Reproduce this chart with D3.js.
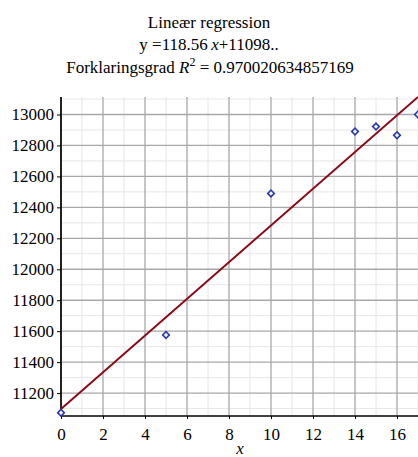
<!DOCTYPE html>
<html>
<head>
<meta charset="utf-8">
<script src="https://cdn.jsdelivr.net/npm/d3@7"></script>
<style>
  html, body { margin: 0; padding: 0; background: #fff; }
  svg { display: block; }
</style>
</head>
<body>
<svg id="chart" width="418" height="457"></svg>
<script>
// Observations
const xValues = [0, 5, 10, 14, 15, 16, 17];
const yValues = [11073, 11575, 12490, 12890, 12922, 12866, 13000];

// Fitted model as reported in the heading
const slope = 118.56;
const intercept = 11098;
const rSquared = "0.970020634857169";

// Axis ticks
const xTicks = [0, 2, 4, 6, 8, 10, 12, 14, 16];
const yTicks = [11200, 11400, 11600, 11800, 12000, 12200, 12400, 12600, 12800, 13000];

const FONT = "Liberation Serif, Tinos, Times New Roman, Times, Nimbus Roman, Noto Serif, FreeSerif, DejaVu Serif, serif";
const svg = d3.select("#chart");
const plotLeft = 61, plotRight = 418, plotTop = 97, plotBottom = 416;

const x = d3.scaleLinear().domain([0, 17]).range([plotLeft, plotRight]);
const y = d3.scaleLinear().domain([11052, 13113]).range([plotBottom, plotTop]);

// Heading
const title = svg.append("g").style("font-family", FONT).style("font-size", "17px")
  .attr("text-anchor", "middle").attr("fill", "#000");
title.append("text").attr("x", 209).attr("y", 28).text("Lineær regression");
const eq = title.append("text").attr("x", 209).attr("y", 50);
eq.append("tspan").text("y =118.56\u2009");
eq.append("tspan").attr("font-style", "italic").text("x");
eq.append("tspan").text("+11098..");
const r2 = title.append("text").attr("x", 210).attr("y", 73);
r2.append("tspan").text("Forklaringsgrad ");
r2.append("tspan").attr("font-style", "italic").text("R");
r2.append("tspan").style("font-size", "12px").attr("dy", -7).text("2");
r2.append("tspan").attr("dy", 7).text(" = " + rSquared);

// Grid: minor lines every 1 / 100, major every 2 / 200
const minorX = d3.range(1, 18);
const minorY = d3.range(11100, 13101, 100);
const gridMinor = svg.append("g");
const gridMajor = svg.append("g");
gridMinor.selectAll("line.vx").data(minorX.filter(d => d % 2 !== 0)).join("line")
  .attr("x1", d => x(d)).attr("x2", d => x(d)).attr("y1", plotTop).attr("y2", plotBottom)
  .attr("stroke", "#e6e6e6");
gridMinor.selectAll("line.hy").data(minorY.filter(d => d % 200 !== 0)).join("line")
  .attr("x1", plotLeft).attr("x2", plotRight).attr("y1", d => y(d)).attr("y2", d => y(d))
  .attr("stroke", "#e6e6e6");
gridMajor.selectAll("line.vx").data(minorX.filter(d => d % 2 === 0)).join("line")
  .attr("x1", d => x(d)).attr("x2", d => x(d)).attr("y1", plotTop).attr("y2", plotBottom)
  .attr("stroke", "#a8a8a8").attr("stroke-width", 1.3);
gridMajor.selectAll("line.hy").data(minorY.filter(d => d % 200 === 0)).join("line")
  .attr("x1", plotLeft).attr("x2", plotRight).attr("y1", d => y(d)).attr("y2", d => y(d))
  .attr("stroke", "#a8a8a8").attr("stroke-width", 1.3);

// Axes
const xAxis = d3.axisBottom(x).tickValues(xTicks).tickSize(3).tickFormat(d3.format("d"));
const yAxis = d3.axisLeft(y).tickValues(yTicks).tickSize(4).tickFormat(d3.format("d"));

const gx = svg.append("g").attr("transform", `translate(0,${plotBottom})`).call(xAxis);
gx.select(".domain").attr("d", `M${plotLeft},0H${plotRight}`).attr("stroke", "#000").attr("stroke-width", 1.5);
gx.selectAll(".tick text").attr("dy", "1.05em").attr("fill", "#000")
  .style("font-family", FONT).style("font-size", "17px");

const gy = svg.append("g").attr("transform", `translate(${plotLeft},0)`).call(yAxis);
gy.select(".domain").attr("d", `M0,${plotTop}V${plotBottom}`).attr("stroke", "#222").attr("stroke-width", 2);
gy.selectAll(".tick text").attr("x", -7).attr("fill", "#000")
  .style("font-family", FONT).style("font-size", "17px");

// Axis title
svg.append("text").attr("x", 240).attr("y", 454).attr("text-anchor", "middle")
  .style("font-family", FONT).style("font-size", "17px").attr("font-style", "italic").text("x");

// Regression line
const lineData = [0, 17].map(v => [v, slope * v + intercept]);
svg.append("path")
  .datum(lineData)
  .attr("d", d3.line().x(d => x(d[0])).y(d => y(d[1])))
  .attr("stroke", "#8b0a17").attr("stroke-width", 2).attr("fill", "none");

// Points: small hollow diamonds
const pts = xValues.map((v, i) => [v, yValues[i]]);
const sym = d3.symbol().type(d3.symbolSquare).size(22);
svg.append("g").selectAll("path").data(pts).join("path")
  .attr("transform", d => `translate(${x(d[0])},${y(d[1])}) rotate(45)`)
  .attr("d", sym)
  .attr("fill", "#eef0ff").attr("stroke", "#2a3aa8").attr("stroke-width", 1.6);
</script>
</body>
</html>
